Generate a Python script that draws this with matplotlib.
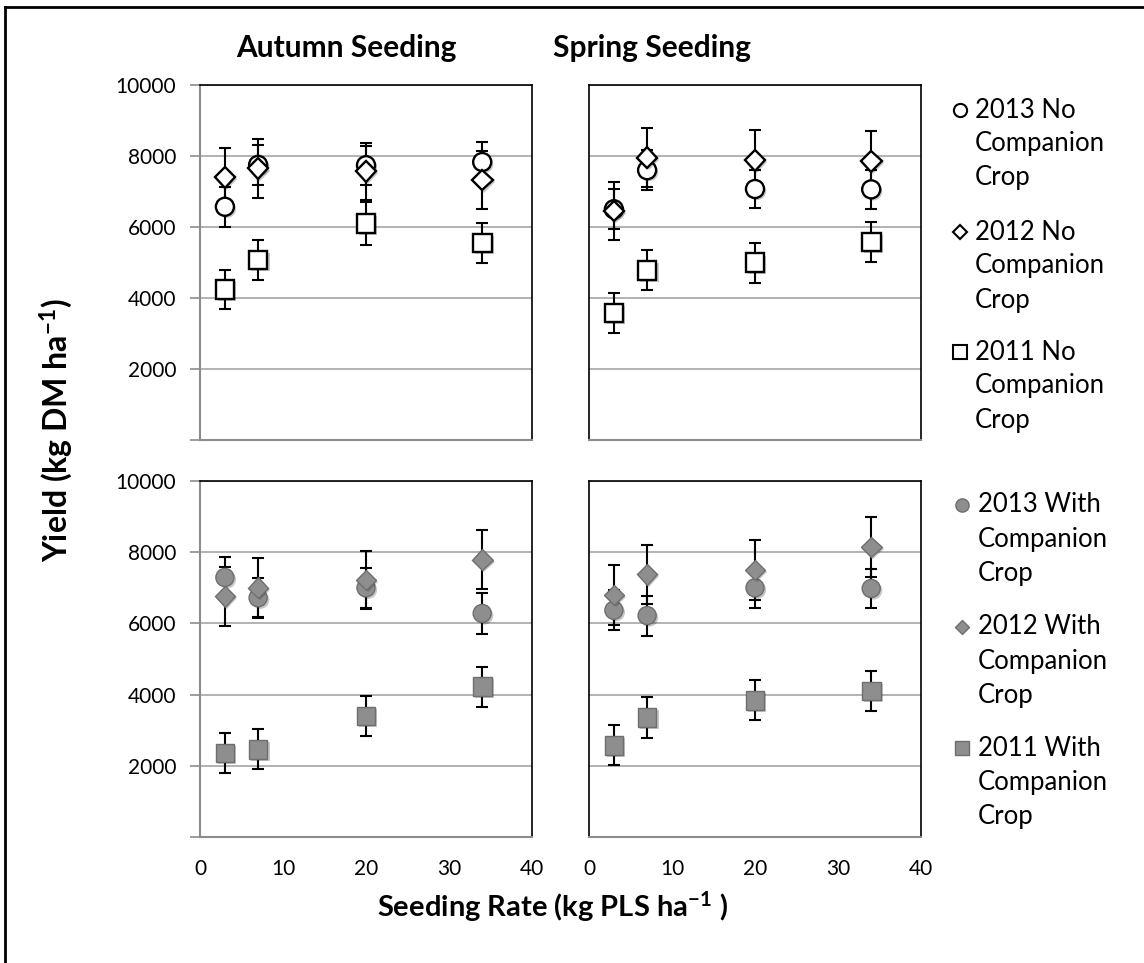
import matplotlib
matplotlib.use('Agg')
import matplotlib.pyplot as plt
import matplotlib.patheffects as pe
from matplotlib.lines import Line2D
from matplotlib.ticker import FuncFormatter

plt.rcParams['font.family'] = ['Lato', 'DejaVu Sans']
plt.rcParams['mathtext.default'] = 'regular'

# seeding rates (kg PLS/ha)
rates = [3, 7, 20, 34]

# yields, kg DM/ha: no companion crop
autumn_no_2013 = [6570, 7750, 7740, 7830]
autumn_no_2012 = [7400, 7650, 7570, 7320]
autumn_no_2011 = [4240, 5070, 6100, 5550]
spring_no_2013 = [6500, 7600, 7070, 7060]
spring_no_2012 = [6450, 7950, 7880, 7850]
spring_no_2011 = [3580, 4780, 4990, 5580]

# with companion crop
autumn_with_2013 = [7290, 6720, 7000, 6280]
autumn_with_2012 = [6760, 7000, 7220, 7790]
autumn_with_2011 = [2360, 2460, 3400, 4220]
spring_with_2013 = [6370, 6220, 7000, 6980]
spring_with_2012 = [6800, 7380, 7500, 8150]
spring_with_2011 = [2580, 3360, 3840, 4100]

# error bars
autumn_no_err = [[570, 570, 550, 560], [820, 820, 810, 820], [560, 570, 600, 570]]
spring_no_err = [[560, 560, 540, 540], [820, 830, 840, 850], [570, 560, 560, 560]]
autumn_with_err = [[580, 560, 570, 580], [830, 830, 810, 830], [570, 560, 570, 560]]
spring_with_err = [[560, 560, 560, 560], [850, 830, 840, 840], [560, 570, 560, 560]]

years = ['2013', '2012', '2011']
markers = ['o', 'D', 's']
msizes = [13, 10.5, 13.5]
leg_sizes = [9.5, 7.5, 10]

W, H = 1144, 963
GRAY = '#8c8c8c'
FILL = '#8e8e8e'


def box(l, t, r, b):
    return [l / W, 1 - b / H, (r - l) / W, (b - t) / H]


fig = plt.figure(figsize=(W / 100, H / 100), dpi=100)

panels = [
    (box(200, 85, 532, 440), [autumn_no_2013, autumn_no_2012, autumn_no_2011], autumn_no_err, False, True, False),
    (box(589, 85, 921, 440), [spring_no_2013, spring_no_2012, spring_no_2011], spring_no_err, False, False, False),
    (box(200, 481, 532, 837), [autumn_with_2013, autumn_with_2012, autumn_with_2011], autumn_with_err, True, True, True),
    (box(589, 481, 921, 837), [spring_with_2013, spring_with_2012, spring_with_2011], spring_with_err, True, False, True),
]

shadow = [pe.SimplePatchShadow(offset=(1.5, -1.5), shadow_rgbFace='#000000', alpha=0.22), pe.Normal()]

for rect, series, errs, filled, left_col, bottom_row in panels:
    ax = fig.add_axes(rect)
    ax.set_xlim(0, 40)
    ax.set_ylim(0, 10000)
    ax.set_xticks([0, 10, 20, 30, 40])
    ax.set_yticks([0, 2000, 4000, 6000, 8000, 10000])
    ax.yaxis.grid(True, color='#a6a6a6', lw=1.2)
    ax.set_axisbelow(True)

    for s in ['top', 'right']:
        ax.spines[s].set_color('black')
        ax.spines[s].set_linewidth(1.2)
    ax.spines['bottom'].set_color(GRAY)
    ax.spines['bottom'].set_linewidth(1.5)
    if left_col:
        ax.spines['left'].set_color(GRAY)
        ax.spines['left'].set_linewidth(1.5)
        ax.tick_params(axis='y', direction='out', length=7, width=1.2, color=GRAY,
                       pad=10, labelsize=15)
        ax.yaxis.set_major_formatter(FuncFormatter(lambda v, p: '' if v == 0 else f'{v:.0f}'))
    else:
        ax.spines['left'].set_color('black')
        ax.spines['left'].set_linewidth(1.2)
        ax.tick_params(axis='y', length=0, labelleft=False)
    if bottom_row:
        ax.tick_params(axis='x', length=0, pad=16, labelsize=15)
    else:
        ax.tick_params(axis='x', length=0, labelbottom=False)

    for vals, err in zip(series, errs):
        ax.errorbar(rates, vals, yerr=err, fmt='none', ecolor='black', elinewidth=1.5,
                    capsize=4, capthick=1.5, zorder=3)
    for vals, m, ms in zip(series, markers, msizes):
        if filled:
            ax.plot(rates, vals, ls='none', marker=m, ms=ms, mfc=FILL, mec='#6e6e6e',
                    mew=1.0, zorder=4, path_effects=shadow)
        else:
            ax.plot(rates, vals, ls='none', marker=m, ms=ms, mfc='white', mec='black',
                    mew=1.7, zorder=4, path_effects=shadow)

# legends on the right
legend_blocks = [(960, 975, [110, 232, 352], 'No', False),
                 (962, 978, [505, 627, 748], 'With', True)]
for mx, tx, ys, word, filled in legend_blocks:
    for yr, m, ms, y in zip(years, markers, leg_sizes, ys):
        if filled:
            h = Line2D([mx / W], [1 - y / H], transform=fig.transFigure, ls='none', marker=m,
                       ms=ms, mfc=FILL, mec='#6e6e6e', mew=1.0)
        else:
            h = Line2D([mx / W], [1 - y / H], transform=fig.transFigure, ls='none', marker=m,
                       ms=ms, mfc='white', mec='black', mew=1.5)
        fig.add_artist(h)
        for i, line in enumerate([f'{yr} {word}', 'Companion', 'Crop']):
            fig.text(tx / W, 1 - (y + i * 34) / H, line, ha='left', va='center', fontsize=18.5)

fig.text(346 / W, 1 - 48 / H, 'Autumn Seeding', ha='center', va='center', fontsize=21.5, fontweight='bold')
fig.text(652 / W, 1 - 48 / H, 'Spring Seeding', ha='center', va='center', fontsize=21.5, fontweight='bold')
fig.text(56 / W, 1 - 430 / H, 'Yield (kg DM ha$^{-1}$)', rotation=90, ha='center', va='center',
         fontsize=23, fontweight='bold')
fig.text(552 / W, 1 - 907 / H, 'Seeding Rate (kg PLS ha$^{-1}$ )', ha='center', va='center',
         fontsize=21, fontweight='bold')

# frame lines at top and left of the image
fig.add_artist(Line2D([5 / W, 5 / W], [0, 1 - 7 / H], transform=fig.transFigure, color='black', lw=2))
fig.add_artist(Line2D([5 / W, 1], [1 - 7 / H, 1 - 7 / H], transform=fig.transFigure, color='black', lw=2))

fig.savefig('out.png', dpi=100)
